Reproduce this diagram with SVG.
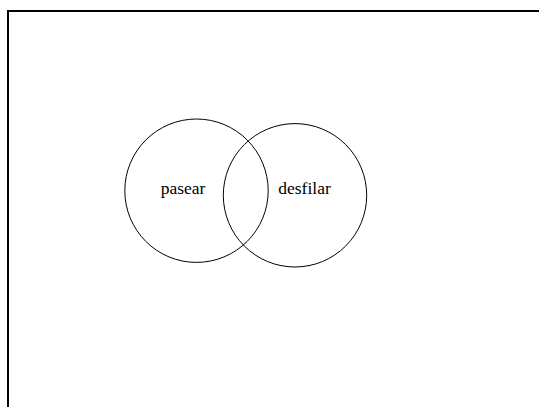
<svg xmlns="http://www.w3.org/2000/svg" width="539" height="407" viewBox="0 0 539 407">
<style>
.c{fill:none;stroke:#000;stroke-width:1}
.t{font-family:"Liberation Serif","Times New Roman",serif;font-size:17.5px;fill:#000;text-anchor:middle}
</style>
<rect width="539" height="407" fill="#fff"/>
<path d="M8,407 V11 H539" fill="none" stroke="#000" stroke-width="2"/>
<g id="pasear">
<circle class="c" cx="196.5" cy="190.7" r="71.7"/>
<text class="t" x="183" y="194">pasear</text>
</g>
<g id="desfilar">
<circle class="c" cx="295" cy="195.3" r="71.7"/>
<text class="t" x="304.5" y="194">desfilar</text>
</g>
<g id="connectors"></g>
</svg>
